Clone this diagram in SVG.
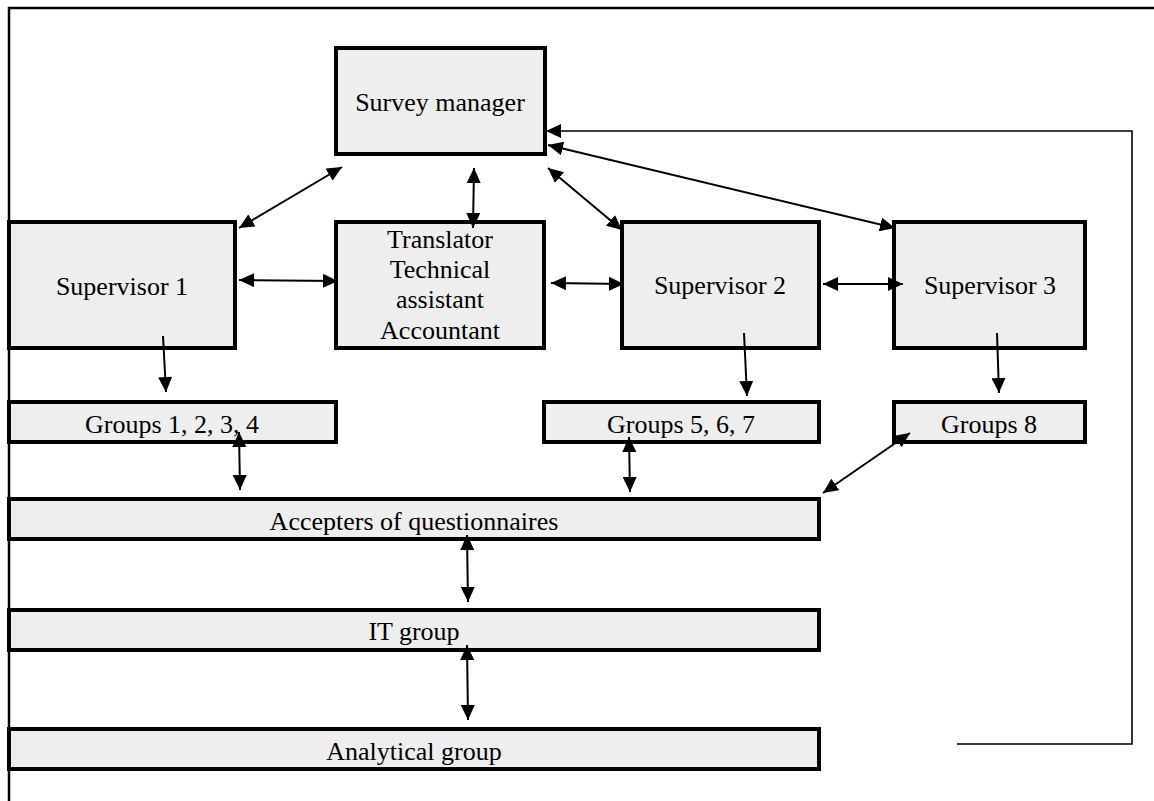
<svg xmlns="http://www.w3.org/2000/svg" width="1154" height="801" viewBox="0 0 1154 801">
<defs>
<style>
.box{fill:#eeeeee;stroke:#000;stroke-width:4}
.lbl{font-family:"Liberation Serif","Times New Roman",serif;font-size:26px;fill:#000;text-anchor:middle}
.c{fill:none;stroke:#000;stroke-width:2}
.frame{fill:none;stroke:#000;stroke-width:2.5}
</style>
<marker id="ah" viewBox="0 0 15 14" refX="15" refY="7" markerWidth="15" markerHeight="14" markerUnits="userSpaceOnUse" orient="auto-start-reverse">
<path d="M0,0 L15,7 L0,14 z" fill="#000"/>
</marker>
</defs>
<rect width="1154" height="801" fill="#fff"/>
<g id="frame">
<path class="frame" d="M9,801 V8 H1154"/>
</g>
<g id="survey-manager">
<rect class="box" x="336" y="48" width="209" height="106"/>
<text class="lbl" x="440" y="111">Survey manager</text>
</g>
<g id="supervisor-1">
<rect class="box" x="9" y="222" width="226" height="126"/>
<text class="lbl" x="122" y="295">Supervisor 1</text>
</g>
<g id="translator">
<rect class="box" x="336" y="222" width="208" height="126"/>
<text class="lbl" x="440" y="248">Translator</text>
<text class="lbl" x="440" y="278">Technical</text>
<text class="lbl" x="440" y="308">assistant</text>
<text class="lbl" x="440" y="339">Accountant</text>
</g>
<g id="supervisor-2">
<rect class="box" x="622" y="222" width="197" height="126"/>
<text class="lbl" x="720" y="294">Supervisor 2</text>
</g>
<g id="supervisor-3">
<rect class="box" x="894" y="222" width="191" height="126"/>
<text class="lbl" x="990" y="294">Supervisor 3</text>
</g>
<g id="groups-1-4">
<rect class="box" x="9" y="402" width="327" height="40"/>
<text class="lbl" x="172" y="433">Groups 1, 2, 3, 4</text>
</g>
<g id="groups-5-7">
<rect class="box" x="544" y="402" width="275" height="40"/>
<text class="lbl" x="681" y="433">Groups 5, 6, 7</text>
</g>
<g id="groups-8">
<rect class="box" x="894" y="402" width="191" height="40"/>
<text class="lbl" x="989" y="433">Groups 8</text>
</g>
<g id="accepters">
<rect class="box" x="9" y="499" width="810" height="40"/>
<text class="lbl" x="414" y="530">Accepters of questionnaires</text>
</g>
<g id="it-group">
<rect class="box" x="9" y="610" width="810" height="40"/>
<text class="lbl" x="414" y="640">IT group</text>
</g>
<g id="analytical-group">
<rect class="box" x="9" y="729" width="810" height="40"/>
<text class="lbl" x="414" y="760">Analytical group</text>
</g>
<g id="connectors">
<line class="c" x1="342" y1="167" x2="239" y2="228" marker-start="url(#ah)" marker-end="url(#ah)"/>
<line class="c" x1="474" y1="168" x2="473" y2="228" marker-start="url(#ah)" marker-end="url(#ah)"/>
<line class="c" x1="548" y1="168" x2="622" y2="230" marker-start="url(#ah)" marker-end="url(#ah)"/>
<line class="c" x1="548" y1="145" x2="895" y2="228" marker-start="url(#ah)" marker-end="url(#ah)"/>
<polyline class="c" points="957,744 1132,744 1132,131 546,131" marker-end="url(#ah)" style="stroke-width:1.6"/>
<line class="c" x1="239" y1="280" x2="338" y2="281" marker-start="url(#ah)" marker-end="url(#ah)"/>
<line class="c" x1="551" y1="283" x2="624" y2="284" marker-start="url(#ah)" marker-end="url(#ah)"/>
<line class="c" x1="823" y1="284" x2="903" y2="284" marker-start="url(#ah)" marker-end="url(#ah)"/>
<line class="c" x1="163" y1="336" x2="166" y2="392" marker-end="url(#ah)"/>
<line class="c" x1="744" y1="333" x2="747" y2="396" marker-end="url(#ah)"/>
<line class="c" x1="997" y1="333" x2="999" y2="393" marker-end="url(#ah)"/>
<line class="c" x1="239" y1="432" x2="240" y2="490" marker-start="url(#ah)" marker-end="url(#ah)"/>
<line class="c" x1="629" y1="437" x2="630" y2="492" marker-start="url(#ah)" marker-end="url(#ah)"/>
<line class="c" x1="910" y1="433" x2="823" y2="493" marker-start="url(#ah)" marker-end="url(#ah)"/>
<line class="c" x1="467" y1="535" x2="468" y2="602" marker-start="url(#ah)" marker-end="url(#ah)"/>
<line class="c" x1="467" y1="645" x2="468" y2="720" marker-start="url(#ah)" marker-end="url(#ah)"/>
</g>
</svg>
